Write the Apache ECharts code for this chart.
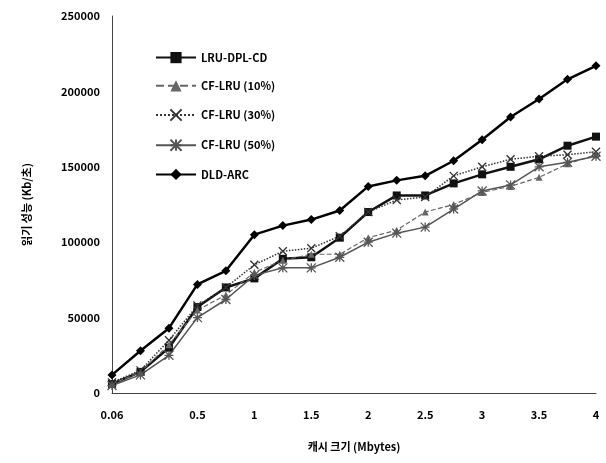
<!DOCTYPE html><html><head><meta charset="utf-8"><script src="https://cdn.jsdelivr.net/npm/echarts@6/dist/echarts.min.js"></script></head><body style="margin:0"><div id="c" style="width:606px;height:463px"></div><script>
var categories=['0.06','0.25','0.375','0.5','0.75','1','1.25','1.5','1.75','2','2.25','2.5','2.75','3','3.25','3.5','3.75','4'];
var shownLabels=['0.06','0.5','1','1.5','2','2.5','3','3.5','4'];
var lruDplCd=[6000,14000,30000,57000,70000,76000,89000,90000,103000,120000,131000,131000,139000,145000,150000,155000,164000,170000];
var cf10=[6000,14000,32000,55000,65000,80000,88000,92000,92000,103000,108000,120000,125000,133000,137000,143000,152000,158000];
var cf30=[7000,15000,35000,58000,70000,85000,94000,96000,104000,120000,128000,130000,144000,150000,155000,157000,158000,160000];
var cf50=[5000,12000,25000,50000,62000,78000,83000,83000,90000,100000,106000,110000,122000,134000,138000,150000,153000,157000];
var dldArc=[12000,28000,43000,72000,81000,105000,111000,115000,121000,137000,141000,144000,154000,168000,183000,195000,208000,217000];
var f='"Noto Sans CJK KR"';
function s(name,data,sym,size,type,color,w,stroke){return {name:name,type:'line',data:data,symbol:sym,symbolSize:size,lineStyle:{type:type,color:color,width:w},itemStyle:stroke?{color:color,borderColor:color,borderWidth:1.3}:{color:color},animation:false};}
echarts.init(document.getElementById('c')).setOption({
textStyle:{fontFamily:f,fontWeight:'bold',color:'#000'},
grid:{left:112,right:10,top:16,bottom:70},
legend:{orient:'vertical',left:150,top:47,itemGap:17,itemWidth:40,textStyle:{fontSize:11,fontWeight:'bold',fontFamily:f,color:'#000'},
data:['LRU-DPL-CD','CF-LRU (10%)','CF-LRU (30%)','CF-LRU (50%)','DLD-ARC']},
xAxis:{type:'category',data:categories,boundaryGap:false,name:'캐시 크기 (Mbytes)',nameLocation:'middle',nameGap:48,nameTextStyle:{fontSize:11,fontWeight:'bold'},
axisLine:{lineStyle:{color:'#444'}},axisTick:{show:false},
axisLabel:{interval:0,fontSize:11,fontWeight:'bold',color:'#000',margin:16,formatter:function(v){return shownLabels.indexOf(v)>=0?v:'';}}},
yAxis:{type:'value',min:0,max:250000,interval:50000,name:'읽기 성능 (Kb/초)',nameLocation:'middle',nameGap:80,nameTextStyle:{fontSize:11,fontWeight:'bold'},
axisLine:{show:true,lineStyle:{color:'#444'}},axisTick:{show:false},splitLine:{show:false},axisLabel:{fontSize:11,fontWeight:'bold',color:'#000',margin:12,formatter:function(v){return String(v);}}},
series:[s('LRU-DPL-CD',lruDplCd,'rect',8,'solid','#111',2.5),s('CF-LRU (10%)',cf10,'triangle',7,'dashed','#666',1.2),
s('CF-LRU (30%)',cf30,'path://M0,0L10,10M10,0L0,10',8,'dotted','#333',1.5,true),s('CF-LRU (50%)',cf50,'path://M0,0L10,10M10,0L0,10M5,0L5,10M0,5L10,5',9,'solid','#555',1.5,true),
s('DLD-ARC',dldArc,'diamond',9,'solid','#000',2.5)]});
</script></body></html>
